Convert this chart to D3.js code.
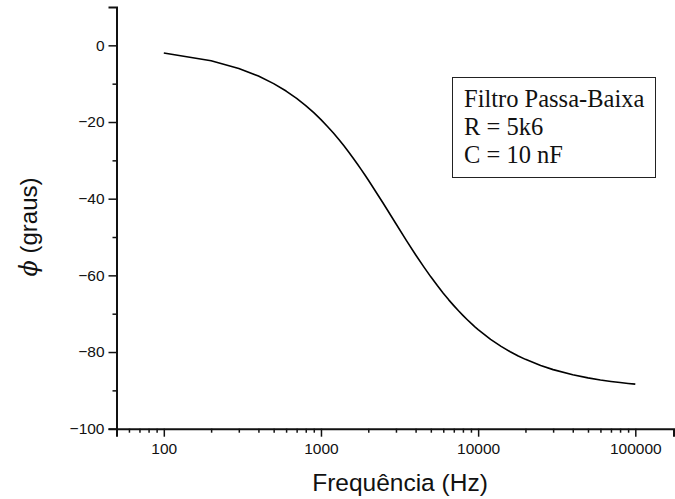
<!DOCTYPE html>
<html>
<head>
<meta charset="utf-8">
<script src="https://cdn.jsdelivr.net/npm/d3@7/dist/d3.min.js"></script>
<style>
  html, body { margin: 0; padding: 0; background: #fff; }
  svg { display: block; }
</style>
</head>
<body>
<svg id="chart" width="675" height="499"></svg>
<script>
// Low-pass RC filter phase response (R = 5k6, C = 10 nF)
const frequencies = [100, 200, 300, 400, 500, 600, 700, 800, 900,
  1000, 1100, 1200, 1300, 1400, 1500, 1600, 1700, 1800, 1900,
  2000, 2500, 3000, 3500, 4000, 4500, 5000, 5500, 6000, 6500,
  7000, 7500, 8000, 8500, 9000, 9500,
  10000, 12000, 14000, 16000, 18000, 20000, 25000,
  30000, 40000, 50000, 60000, 70000, 80000, 90000, 100000];
const phaseDeg = [-2.02, -4.03, -6.03, -8.01, -9.98, -11.92, -13.84, -15.72, -17.57,
  -19.38, -21.16, -22.89, -24.58, -26.22, -27.83, -29.38, -30.89, -32.35, -33.76,
  -35.13, -41.33, -46.55, -50.93, -54.61, -57.72, -60.39, -62.67, -64.65, -66.39,
  -67.90, -69.25, -70.44, -71.51, -72.48, -73.35,
  -74.13, -76.68, -78.52, -79.93, -81.03, -81.91, -83.51,
  -84.59, -85.94, -86.75, -87.29, -87.67, -87.97, -88.19, -88.37];

const xMajorTicks = [100, 1000, 10000, 100000];
const yMajorTicks = [0, -20, -40, -60, -80, -100];
const yMinorTicks = [-10, -30, -50, -70, -90];
const legendLines = ["Filtro Passa-Baixa", "R = 5k6", "C = 10 nF"];

const svg = d3.select("#chart");
const plotLeft = 116.5, plotRight = 673.5, plotTop = 7, plotBottom = 428.7;

const x = d3.scaleLog().domain([50, 175000]).range([plotLeft, plotRight]);
const y = d3.scaleLinear().domain([-100, 10]).range([plotBottom, plotTop]);

const sans = "'Liberation Sans', Arial, sans-serif";

// Minor ticks for the log axis: 2..9 multiples within the domain
const xMinorTicks = x.ticks().filter(v => !xMajorTicks.includes(v));

const xAxisG = svg.append("g").attr("transform", `translate(0,${plotBottom})`);
xAxisG.call(d3.axisBottom(x).tickValues(xMajorTicks).tickSize(8).tickPadding(6)
  .tickFormat(d3.format("d")));
xAxisG.append("g").call(d3.axisBottom(x).tickValues(xMinorTicks).tickSize(4).tickFormat(""))
  .select(".domain").remove();

const yAxisG = svg.append("g").attr("transform", `translate(${plotLeft},0)`);
yAxisG.call(d3.axisLeft(y).tickValues(yMajorTicks).tickSize(8).tickPadding(4)
  .tickFormat(d3.format("d")));
yAxisG.append("g").call(d3.axisLeft(y).tickValues(yMinorTicks).tickSize(4).tickFormat(""))
  .select(".domain").remove();

svg.selectAll(".domain").attr("stroke", "#111").attr("stroke-width", 2);
svg.selectAll(".tick line").attr("stroke", "#111").attr("stroke-width", 1.5);
svg.selectAll(".tick text").attr("font-family", sans).attr("font-size", 15.5)
  .attr("fill", "#111");

// Phase curve
const points = frequencies.map((f, i) => [f, phaseDeg[i]]);
svg.append("path")
  .datum(points)
  .attr("fill", "none")
  .attr("stroke", "#000")
  .attr("stroke-width", 1.6)
  .attr("stroke-linejoin", "round")
  .attr("d", d3.line().x(d => x(d[0])).y(d => y(d[1])));

// Axis titles
svg.append("text")
  .attr("x", 400).attr("y", 491)
  .attr("text-anchor", "middle")
  .attr("font-family", sans).attr("font-size", 24.5).attr("fill", "#111")
  .text("Frequência (Hz)");

const yTitle = svg.append("text")
  .attr("transform", "translate(37,227) rotate(-90)")
  .attr("text-anchor", "middle")
  .attr("font-family", sans).attr("font-size", 24).attr("fill", "#111");
yTitle.append("tspan").attr("font-style", "italic").attr("font-family", "'DejaVu Serif', serif").text("ϕ");
yTitle.append("tspan").text(" (graus)");

// Legend box
const lg = svg.append("g");
lg.append("rect")
  .attr("x", 452.5).attr("y", 77.5).attr("width", 203).attr("height", 100)
  .attr("fill", "#fff").attr("stroke", "#222").attr("stroke-width", 1);
lg.selectAll("text").data(legendLines).enter().append("text")
  .attr("x", 464)
  .attr("y", (d, i) => 107 + i * 28)
  .attr("font-family", "'Liberation Serif', 'Times New Roman', serif")
  .attr("font-size", 24.5).attr("fill", "#111")
  .text(d => d);
</script>
</body>
</html>
